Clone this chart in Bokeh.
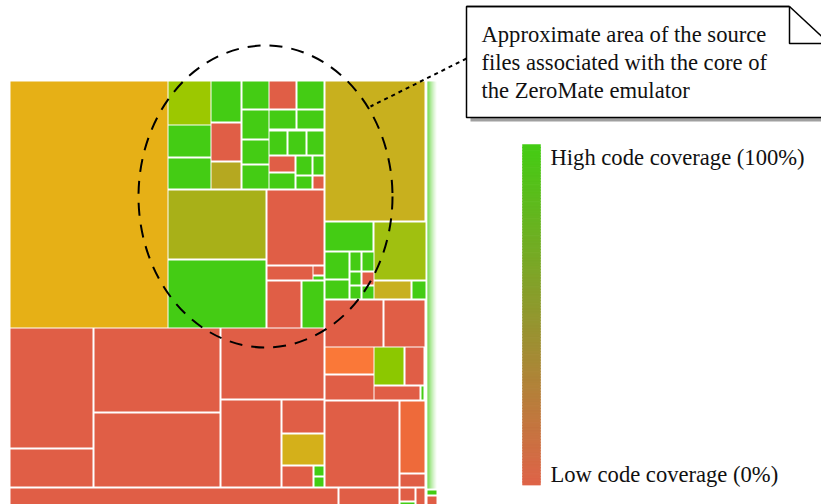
from bokeh.plotting import figure
from bokeh.models import Range1d, ColumnDataSource
from bokeh.core.properties import value
from bokeh.embed import file_html
from bokeh.resources import INLINE

# ---- treemap cells (layout units = page pixels), coverage colour per cell ----
RED = "#E05E46"
GRN = "#44CC14"
cell_x0 = [10, 168, 168, 168, 211, 211, 211, 242, 242, 242, 242,
           269, 297, 269, 297, 269, 288, 307, 269, 269, 296, 296, 313, 313,
           168, 168, 267, 267, 313, 313, 267, 302,
           325, 325, 374, 325, 350, 350, 350, 362, 362, 362, 325, 374, 412,
           325, 384, 325, 325, 374, 405, 374, 421,
           10, 10, 94, 94, 221, 221, 282, 282, 282, 314, 314,
           325, 400, 400,
           10, 339, 400, 400, 416, 427, 427]
cell_y0 = [81, 81, 125, 158, 81, 123, 162, 81, 110, 140, 165,
           81, 81, 110, 110, 131, 131, 131, 156, 173, 156, 176, 156, 176,
           190, 260, 190, 266, 266, 276, 281, 281,
           81, 222, 222, 252, 252, 272, 286, 252, 272, 286, 280, 281, 281,
           300, 300, 347, 375, 347, 347, 386, 386,
           328, 449, 328, 413, 328, 400, 400, 434, 466, 466, 477,
           401, 401, 474,
           488, 488, 488, 502, 488, 490, 496]
cell_x1 = [167, 210, 210, 210, 240, 240, 240, 268, 268, 268, 268,
           295, 323, 295, 323, 286, 305, 323, 294, 294, 311, 311, 323, 323,
           265, 265, 323, 312, 323, 323, 300, 323,
           424, 372, 425, 348, 360, 360, 360, 373, 373, 373, 348, 410, 425,
           382, 424, 373, 373, 403, 423, 419, 423,
           92, 92, 219, 219, 323, 280, 323, 323, 312, 323, 323,
           398, 424, 424,
           337, 398, 414, 414, 424, 436, 436]
cell_y1 = [327, 124, 156, 188, 121, 160, 188, 108, 138, 163, 188,
           108, 108, 128, 128, 154, 154, 154, 171, 188, 174, 188, 174, 188,
           258, 327, 264, 279, 274, 279, 327, 327,
           220, 250, 279, 278, 270, 284, 298, 270, 284, 298, 298, 298, 298,
           346, 346, 373, 399, 384, 384, 399, 399,
           447, 486, 411, 486, 398, 486, 432, 464, 486, 475, 486,
           486, 472, 486,
           504, 504, 500, 504, 504, 494, 504]
cell_color = ["#E6B016", "#9CC800", GRN, GRN, GRN, RED, "#B5A820", GRN, GRN, GRN, GRN,
              RED, GRN, GRN, GRN, GRN, GRN, GRN, RED, GRN, GRN, GRN, GRN, RED,
              "#A8B018", GRN, RED, RED, RED, GRN, RED, GRN,
              "#C8B01E", GRN, "#A0C010", GRN, GRN, GRN, GRN, GRN, RED, GRN, GRN, "#C8B020", GRN,
              RED, RED, "#FA7838", RED, "#8CC800", RED, RED, GRN,
              RED, RED, RED, RED, RED, RED, RED, "#D4B01A", RED, GRN, GRN,
              RED, "#EE6A3A", RED,
              RED, RED, RED, GRN, RED, GRN, RED]

# thin strip of many tiny, well covered files (fading green)
strip_alpha = [0.85, 0.72, 0.58, 0.46, 0.36, 0.27, 0.19, 0.12, 0.06]

# texts
callout_lines = ["Approximate area of the source",
                 "files associated with the core of",
                 "the ZeroMate emulator"]
legend_high = "High code coverage (100%)"
legend_low = "Low code coverage (0%)"

p = figure(width=821, height=504, output_backend="svg", toolbar_location=None,
           x_range=Range1d(0, 821), y_range=Range1d(504, 0),
           min_border=0, outline_line_color=None, background_fill_color="white",
           border_fill_color="white")
p.axis.visible = False
p.grid.visible = False

src = ColumnDataSource(dict(left=cell_x0, right=cell_x1, top=cell_y0,
                            bottom=cell_y1, color=cell_color))
p.quad(left="left", right="right", top="top", bottom="bottom",
       fill_color="color", line_color=None, source=src)

sx = [427 + i for i in range(len(strip_alpha))]
p.quad(left=sx, right=[x + 1 for x in sx], top=[81] * len(sx),
       bottom=[488] * len(sx), fill_color=GRN, fill_alpha=strip_alpha,
       line_color=None)

# dashed ellipse marking the core
p.ellipse(x=[265], y=[196], width=[254], height=[302], fill_color=None,
          line_color="black", line_width=2, line_dash="13 9")

# dotted leader line
p.line(x=[466, 370], y=[58, 106], line_color="black", line_width=2,
       line_dash="4 4")

# callout box with shadow and folded corner
p.quad(left=[470], right=[830], top=[10], bottom=[121], fill_color="#A0A0A0",
       line_color=None)
p.quad(left=[466], right=[830], top=[6], bottom=[117], fill_color="white",
       line_color="black", line_width=1.5)
p.patch(x=[789, 830, 830, 789], y=[4, 4, 43, 43], fill_color="white",
        line_color=None)
p.line(x=[789, 789, 830], y=[6, 43, 43], line_color="black", line_width=1.5)
p.line(x=[789, 830], y=[6, 44], line_color="black", line_width=1.5)
p.line(x=[466, 789], y=[6, 6], line_color="black", line_width=1.5)
p.text(x=[481] * 3, y=[34, 62, 90], text=callout_lines,
       text_font=value("Liberation Serif"), text_font_size="22.6px",
       text_color="#111111", text_baseline="alphabetic")

# legend gradient
n = 120
top_c = (68, 204, 20)
bot_c = (222, 100, 72)
y0, y1 = 144, 484
ys = [y0 + (y1 - y0) * i / n for i in range(n + 1)]
cols = []
for i in range(n):
    t = i / (n - 1)
    c = tuple(int(round(top_c[k] + (bot_c[k] - top_c[k]) * t)) for k in range(3))
    cols.append("#%02x%02x%02x" % c)
p.quad(left=[522] * n, right=[540] * n, top=ys[:-1], bottom=[y + 0.6 for y in ys[1:]],
       fill_color=cols, line_color=cols, line_width=0.5)
p.text(x=[550, 550], y=[157, 474], text=[legend_high, legend_low],
       text_font=value("Liberation Serif"), text_font_size="22.6px",
       text_color="#111111", text_baseline="alphabetic")

open("out.html", "w").write(file_html(p, INLINE))
